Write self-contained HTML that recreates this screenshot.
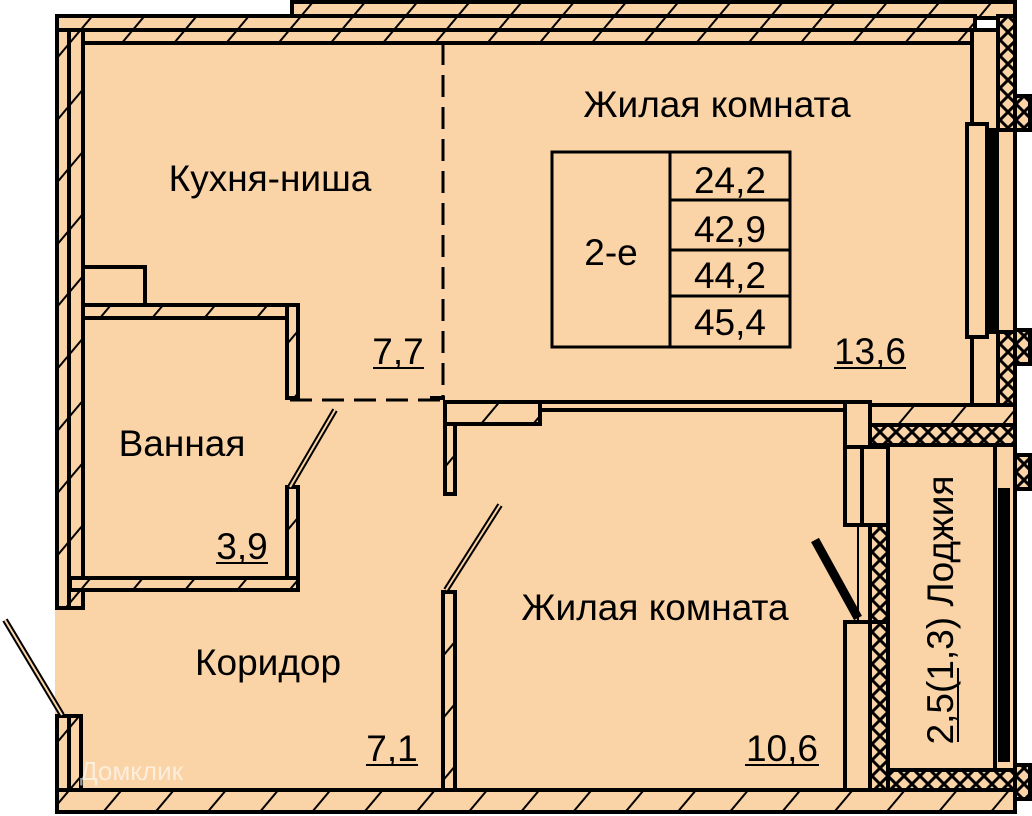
<!DOCTYPE html>
<html><head><meta charset="utf-8"><style>
html,body{margin:0;padding:0;background:#fff;}
svg{display:block;}
text{font-family:"Liberation Sans",sans-serif;fill:#000;}
</style></head><body>
<svg width="1032" height="816" viewBox="0 0 1032 816" xmlns="http://www.w3.org/2000/svg">
<defs>
<pattern id="h" width="40" height="40" patternUnits="userSpaceOnUse" patternTransform="rotate(40)">
<rect width="40" height="40" fill="#FAD3A6"/><line x1="0" y1="0" x2="0" y2="40" stroke="#000" stroke-width="4"/>
</pattern>
<pattern id="x" width="16" height="16" patternUnits="userSpaceOnUse">
<rect width="16" height="16" fill="#FAD3A6"/><path d="M0 0L16 16M16 0L0 16" stroke="#000" stroke-width="3"/>
</pattern>
</defs>
<g stroke="#000" stroke-width="4">
<rect x="55" y="30" width="955" height="770" fill="#FAD3A6" stroke="none"/>
<rect x="292" y="2" width="723" height="16" fill="url(#h)"/>
<rect x="57" y="16" width="918" height="14" fill="url(#h)"/>
<rect x="57" y="30" width="918" height="13" fill="url(#h)"/>
<rect x="57" y="30" width="12" height="578" fill="url(#h)"/>
<rect x="69" y="30" width="14" height="578" fill="url(#h)"/>
<rect x="57" y="716" width="12" height="78" fill="url(#h)"/>
<rect x="69" y="716" width="12" height="78" fill="url(#h)"/>
<rect x="57" y="790" width="958" height="22" fill="url(#h)"/>
<rect x="972" y="30" width="26" height="395" fill="#FAD3A6"/>
<rect x="998" y="16" width="17" height="409" fill="url(#x)"/>
<rect x="1015" y="96" width="15" height="34" fill="url(#x)"/>
<rect x="1015" y="330" width="15" height="34" fill="url(#x)"/>
<rect x="967" y="124" width="20" height="213" fill="#FAD3A6"/>
<rect x="987" y="130" width="10" height="202" fill="#000"/>
<rect x="997" y="130" width="18" height="202" fill="#FAD3A6"/>
<rect x="870" y="405" width="145" height="20" fill="url(#h)"/>
<rect x="870" y="425" width="145" height="20" fill="url(#x)"/>
<rect x="870" y="770" width="145" height="20" fill="url(#x)"/>
<rect x="870" y="445" width="18" height="325" fill="url(#x)"/>
<rect x="995" y="445" width="20" height="325" fill="#FAD3A6"/>
<rect x="1000" y="490" width="8" height="270" fill="#000"/>
<rect x="1015" y="455" width="15" height="34" fill="url(#x)"/>
<rect x="1015" y="765" width="15" height="34" fill="url(#x)"/>
<rect x="845" y="402" width="25" height="45" fill="#FAD3A6"/>
<rect x="845" y="447" width="43" height="78" fill="#FAD3A6"/>
<line x1="862" y1="447" x2="862" y2="525"/>
<line x1="858" y1="525" x2="858" y2="620" stroke-width="2"/>
<rect x="845" y="622" width="25" height="168" fill="#FAD3A6"/>
<rect x="870" y="622" width="18" height="168" fill="url(#x)"/>
<line x1="430" y1="398" x2="445" y2="398"/>
<rect x="445" y="402" width="95" height="22" fill="url(#h)"/>
<rect x="540" y="402" width="305" height="8" fill="#FAD3A6"/>
<rect x="445" y="424" width="10" height="70" fill="url(#h)"/>
<rect x="443" y="592" width="12" height="198" fill="url(#h)"/>
<rect x="83" y="267" width="62" height="38" fill="#FAD3A6"/>
<rect x="83" y="305" width="215" height="13" fill="url(#h)"/>
<rect x="287" y="305" width="11" height="93" fill="url(#h)"/>
<rect x="287" y="487" width="11" height="103" fill="url(#h)"/>
<rect x="70" y="578" width="228" height="12" fill="url(#h)"/>
<line x1="290" y1="487" x2="335" y2="410" stroke-width="6"/>
<line x1="290" y1="487" x2="335" y2="410" stroke="#FAD3A6" stroke-width="2"/>
<line x1="446" y1="590" x2="500" y2="505" stroke-width="6"/>
<line x1="446" y1="590" x2="500" y2="505" stroke="#FAD3A6" stroke-width="2"/>
<line x1="858" y1="618" x2="815" y2="540" stroke-width="9"/>
<line x1="62" y1="715" x2="5" y2="620" stroke-width="6"/>
<line x1="62" y1="715" x2="5" y2="620" stroke="#FAD3A6" stroke-width="2"/>
<line x1="443" y1="43" x2="443" y2="398" stroke-width="3" stroke-dasharray="22,10"/>
<line x1="290" y1="400" x2="443" y2="400" stroke-width="3" stroke-dasharray="22,10"/>
<rect x="552" y="152" width="238" height="195" fill="none" stroke-width="3"/>
<line x1="670" y1="152" x2="670" y2="347" stroke-width="3"/>
<line x1="670" y1="200" x2="790" y2="200" stroke-width="3"/>
<line x1="670" y1="250" x2="790" y2="250" stroke-width="3"/>
<line x1="670" y1="296" x2="790" y2="296" stroke-width="3"/>
</g>
<g stroke="#000" stroke-width="2">
<line x1="373" y1="368" x2="424" y2="368"/>
<line x1="834" y1="368" x2="906" y2="368"/>
<line x1="216" y1="563" x2="268" y2="563"/>
<line x1="366" y1="765" x2="418" y2="765"/>
<line x1="745" y1="765" x2="819" y2="765"/>
<line x1="958" y1="668" x2="958" y2="742"/>
</g>
<g font-size="37">
<text x="717" y="117" text-anchor="middle">Жилая комната</text>
<text x="270" y="191" text-anchor="middle">Кухня-ниша</text>
<text x="182" y="456" text-anchor="middle">Ванная</text>
<text x="268" y="675" text-anchor="middle">Коридор</text>
<text x="655" y="620" text-anchor="middle">Жилая комната</text>
<text x="611" y="265" text-anchor="middle">2-е</text>
<text x="730" y="193" text-anchor="middle">24,2</text>
<text x="730" y="242" text-anchor="middle">42,9</text>
<text x="730" y="288" text-anchor="middle">44,2</text>
<text x="730" y="335" text-anchor="middle">45,4</text>
<text x="398" y="364" text-anchor="middle">7,7</text>
<text x="870" y="364" text-anchor="middle">13,6</text>
<text x="242" y="559" text-anchor="middle">3,9</text>
<text x="392" y="761" text-anchor="middle">7,1</text>
<text x="782" y="761" text-anchor="middle">10,6</text>
<text transform="translate(953,610) rotate(-90)" text-anchor="middle">2,5(1,3) Лоджия</text>
</g>
<text x="80" y="780" font-size="26" style="fill:#fff;opacity:0.6">Домклик</text>
</svg>
</body></html>
